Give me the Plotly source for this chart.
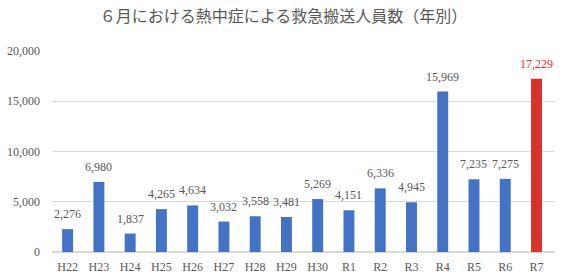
import plotly.graph_objects as go

categories = ["H22","H23","H24","H25","H26","H27","H28","H29","H30","R1","R2","R3","R4","R5","R6","R7"]
values = [2276, 6980, 1837, 4265, 4634, 3032, 3558, 3481, 5269, 4151, 6336, 4945, 15969, 7235, 7275, 17229]
title_text = "６月における熱中症による救急搬送人員数（年別）"

blue = "#4472C4"
red = "#D9322A"
bar_colors = [blue] * (len(categories) - 1) + [red]
label_colors = ["#595959"] * (len(categories) - 1) + ["#FF2020"]

fig = go.Figure(go.Bar(
    x=categories, y=values,
    marker=dict(color=bar_colors, line=dict(width=0)),
))

for c, v, col in zip(categories, values, label_colors):
    fig.add_annotation(x=c, y=v, text=f"{v:,}", showarrow=False,
                       yanchor="bottom", yshift=6,
                       font=dict(family="Liberation Serif, serif", size=12, color=col))

fig.update_layout(
    width=567, height=280,
    margin=dict(l=52, r=12, t=51, b=28),
    paper_bgcolor="white", plot_bgcolor="white",
    bargap=0.65,
    showlegend=False,
    title=dict(text=title_text, x=0.5, xanchor="center", y=0.94, yanchor="middle",
               font=dict(family="Noto Sans CJK JP", size=16, color="#595959")),
    xaxis=dict(tickfont=dict(family="Liberation Serif, serif", size=12, color="#595959"),
               showgrid=False, showline=False, ticks="", ticklabelstandoff=6,
               automargin=False),
    yaxis=dict(range=[0, 20000], tickvals=[0, 5000, 10000, 15000, 20000],
               ticktext=["0", "5,000", "10,000", "15,000", "20,000"],
               tickfont=dict(family="Liberation Serif, serif", size=12, color="#595959"),
               gridcolor="#D9D9D9", gridwidth=1, zeroline=True, zerolinecolor="#D9D9D9",
               ticks="", ticklabelstandoff=11, automargin=False),
)

fig.write_html("out.html")
